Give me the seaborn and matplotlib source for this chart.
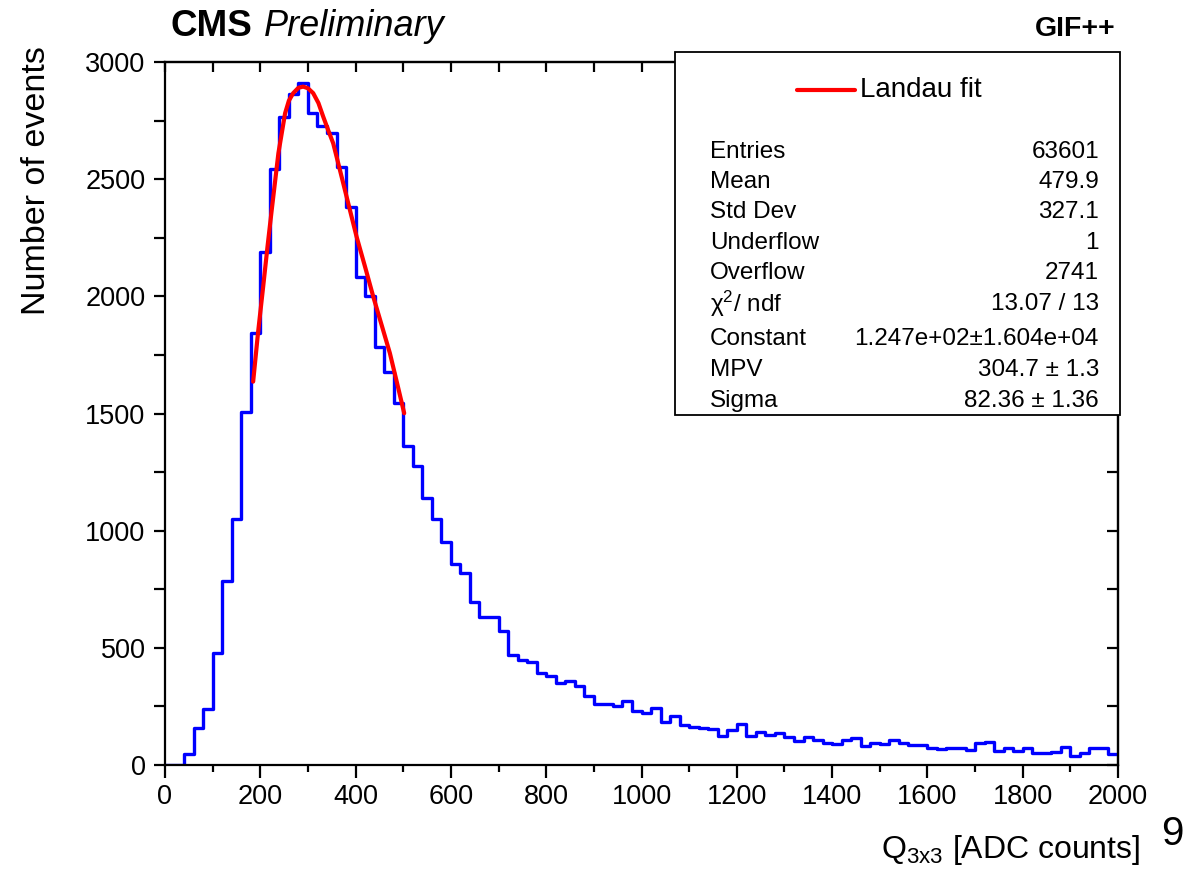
import numpy as np
import matplotlib
matplotlib.use("Agg")
import matplotlib.pyplot as plt
import seaborn as sns
from matplotlib.patches import Rectangle
from matplotlib.lines import Line2D
from matplotlib.ticker import MultipleLocator

# ---------------- data ----------------
bin_edges = list(range(0, 2001, 20))
counts = [
    0, 0, 48, 160, 240, 480, 785, 1050, 1508, 1845,
    2190, 2545, 2767, 2862, 2912, 2781, 2727, 2699, 2551, 2380,
    2081, 2003, 1783, 1679, 1544, 1361, 1276, 1141, 1050, 953,
    856, 818, 696, 633, 633, 573, 469, 447, 440, 394,
    380, 349, 358, 337, 296, 259, 259, 252, 275, 230,
    223, 245, 182, 210, 171, 164, 159, 155, 124, 149,
    176, 124, 139, 127, 137, 121, 101, 121, 107, 95,
    88, 107, 114, 81, 95, 88, 107, 95, 84, 84,
    74, 67, 71, 71, 64, 92, 98, 61, 71, 60,
    71, 53, 53, 57, 75, 38, 53, 71, 71, 47,
]
fit_x = [185, 195, 206, 215, 224, 238, 252, 260, 269, 280, 290, 300, 311,
         322, 332, 342, 353, 367, 381, 402, 420, 437, 455, 472, 487, 502]
fit_y = [1636, 1840, 2041, 2210, 2369, 2611, 2781, 2835, 2867, 2890, 2895,
         2888, 2867, 2825, 2767, 2712, 2653, 2540, 2426, 2255, 2125, 1999,
         1875, 1757, 1630, 1501]

stat_labels = ["Entries", "Mean", "Std Dev", "Underflow", "Overflow",
               "χ$^{\\mathregular{2}}$/ ndf", "Constant", "MPV", "Sigma"]
stat_values = ["63601", "479.9", "327.1", "1", "2741", "13.07 / 13",
               "1.247e+02±1.604e+04", "304.7 ± 1.3", "82.36 ± 1.36"]

# ---------------- style ----------------
sns.set_theme(style="white")
plt.rcParams["font.family"] = ["Liberation Sans", "DejaVu Sans"]
plt.rcParams["mathtext.fontset"] = "custom"
plt.rcParams["mathtext.rm"] = "Liberation Sans"
plt.rcParams["mathtext.it"] = "Liberation Sans:italic"
plt.rcParams["mathtext.bf"] = "Liberation Sans:bold"
plt.rcParams["text.color"] = "black"
plt.rcParams["axes.labelcolor"] = "black"
plt.rcParams["xtick.color"] = "black"
plt.rcParams["ytick.color"] = "black"

W, H = 1186, 873
def fx(px):
    return px / W
def fy(py):
    return 1 - py / H

fig = plt.figure(figsize=(W / 100, H / 100), dpi=100)
fig.patch.set_facecolor("white")
ax = fig.add_axes([fx(165), fy(765), (1118 - 165) / W, (765 - 62) / H])
ax.set_facecolor("white")

centers = [(bin_edges[i] + bin_edges[i + 1]) / 2 for i in range(len(counts))]
sns.histplot(x=centers, weights=counts, bins=bin_edges, element="step",
             fill=False, color="#0000ff", linewidth=2.4, ax=ax)
sns.lineplot(x=fit_x, y=fit_y, color="#ff0000", linewidth=3.0, sort=False,
             ax=ax, zorder=5)

ax.set_xlim(0, 2000)
ax.set_ylim(0, 3000)
ax.set_xlabel("")
ax.set_ylabel("")

for s in ax.spines.values():
    s.set_linewidth(1.6)
    s.set_color("black")

ax.xaxis.set_major_locator(MultipleLocator(200))
ax.xaxis.set_minor_locator(MultipleLocator(100))
ax.yaxis.set_major_locator(MultipleLocator(500))
ax.yaxis.set_minor_locator(MultipleLocator(250))
ax.tick_params(axis="x", which="major", direction="out", length=9, width=1.6,
               labelsize=19.5, pad=5, colors="black", top=False, bottom=True)
ax.tick_params(axis="x", which="minor", direction="out", length=5, width=1.6,
               top=False, bottom=True)
ax.tick_params(axis="y", which="major", direction="out", length=8, width=1.6,
               labelsize=19.5, pad=6, colors="black", left=True, right=False)
ax.tick_params(axis="y", which="minor", direction="out", length=8, width=1.6,
               left=True, right=False)

sec_x = ax.secondary_xaxis("top")
sec_x.xaxis.set_major_locator(MultipleLocator(200))
sec_x.xaxis.set_minor_locator(MultipleLocator(100))
sec_x.tick_params(axis="x", which="both", direction="in", length=7, width=1.6,
                  labeltop=False, colors="black")
sec_x.spines["top"].set_linewidth(1.6)
sec_y = ax.secondary_yaxis("right")
sec_y.yaxis.set_major_locator(MultipleLocator(500))
sec_y.yaxis.set_minor_locator(MultipleLocator(250))
sec_y.tick_params(axis="y", which="both", direction="in", length=8, width=1.6,
                  labelright=False, colors="black")
sec_y.spines["right"].set_linewidth(1.6)

# ---------------- texts ----------------
fig.text(fx(170), fy(36), "CMS", fontsize=26.5, fontweight="bold",
         ha="left", va="baseline")
fig.text(fx(264), fy(36), "Preliminary", fontsize=26, fontstyle="italic",
         ha="left", va="baseline")
fig.text(fx(1116), fy(36), "GIF++", fontsize=20.5, fontweight="bold",
         ha="right", va="baseline")
fig.text(fx(37), fy(181), "Number of events", fontsize=24.5, rotation=90,
         ha="center", va="center")
fig.text(fx(1140), fy(858), "Q$_{\\mathregular{3x3}}$ [ADC counts]",
         fontsize=23, ha="right", va="baseline")
fig.text(fx(1161), fy(845), "9", fontsize=29, ha="left", va="baseline")

# stats box
box = Rectangle((fx(675), fy(415)), (1120 - 675) / W, (415 - 52) / H,
                transform=fig.transFigure, facecolor="white",
                edgecolor="black", linewidth=1.3, zorder=10)
fig.add_artist(box)
fig.add_artist(Line2D([fx(797), fx(855)], [fy(90), fy(90)],
                      transform=fig.transFigure, color="#ff0000",
                      linewidth=3, zorder=11))
fig.text(fx(860), fy(90), "Landau fit", fontsize=20, ha="left",
         va="center", zorder=11)
row_y = [152, 182, 212, 243, 273, 304, 339, 370, 401]
for lab, val, yy in zip(stat_labels, stat_values, row_y):
    fig.text(fx(710), fy(yy), lab, fontsize=17.5, ha="left", va="center",
             zorder=11)
    fig.text(fx(1099), fy(yy), val, fontsize=17.5, ha="right", va="center",
             zorder=11)

fig.savefig("out.png", dpi=100, facecolor="white")
